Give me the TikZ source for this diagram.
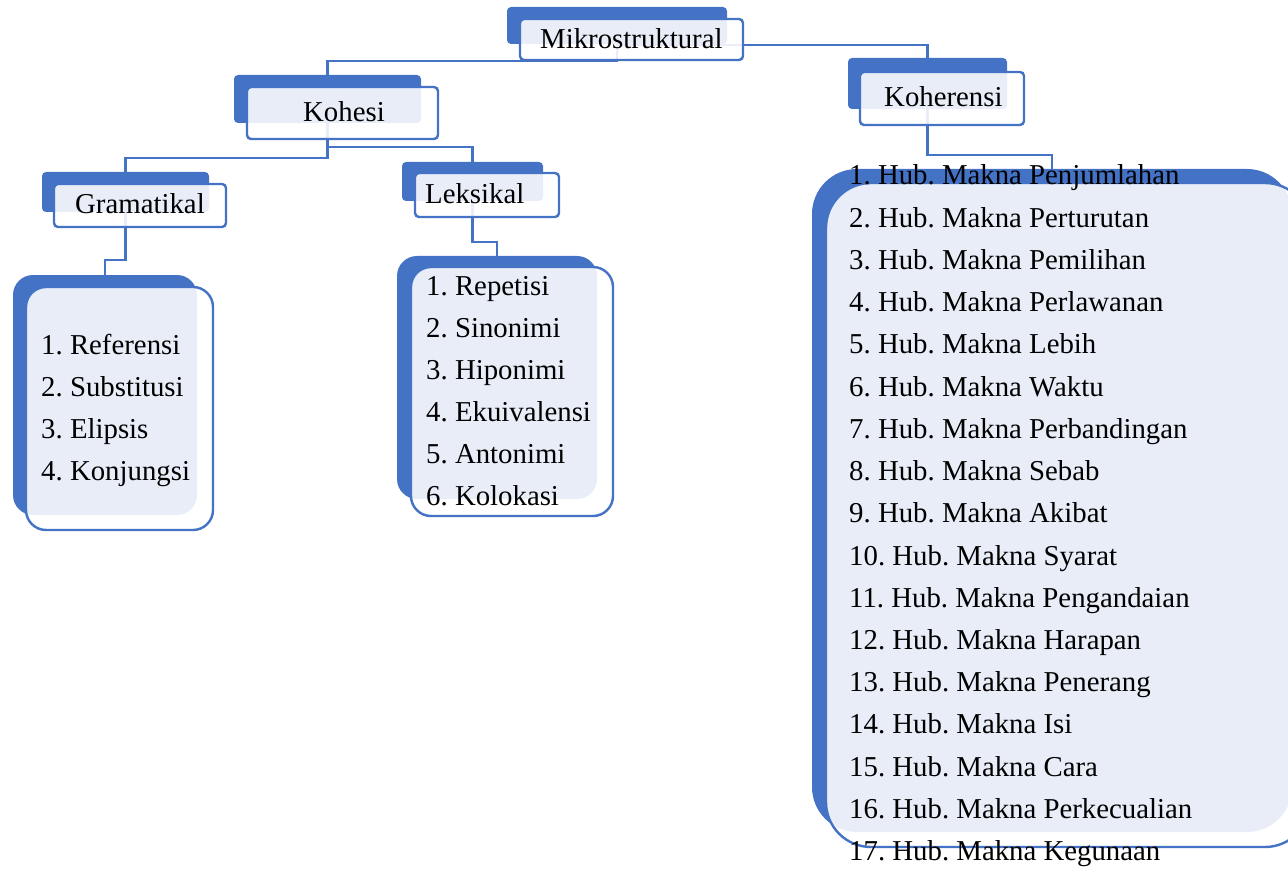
\documentclass[tikz,border=0pt]{standalone}
\usepackage{fontspec}
\setmainfont{Liberation Serif}
\usetikzlibrary{backgrounds,calc}
\definecolor{acc}{HTML}{4472C4}
\frenchspacing
\begin{document}
\begin{tikzpicture}[x=1pt,y=-1pt,
  backbox/.style={fill=acc,draw=none,rounded corners=4pt,inner sep=0pt,outer sep=0pt},
  frontbox/.style={fill=white,fill opacity=0.88,draw=acc,line width=2.4pt,rounded corners=4pt,inner sep=0pt,outer sep=0pt},
  lbl/.style={anchor=base west,inner sep=0pt,font=\fontsize{28.8}{34}\selectfont\frenchspacing,text=black},
  conn/.style={draw=acc,line width=2.4pt},
]
\useasboundingbox (0,0) rectangle (1288,869);
\clip (0,0) rectangle (1288,869);

% header boxes
\node[backbox,minimum width=220pt,minimum height=37pt] (mikroB) at (617,25.5) {};
\node[frontbox,minimum width=223pt,minimum height=41pt] (mikroF) at (631.5,39.5) {};

\node[backbox,minimum width=187pt,minimum height=48pt] (kohB) at (327.5,99) {};
\node[frontbox,minimum width=191pt,minimum height=52pt] (kohF) at (342.5,113) {};

\node[backbox,minimum width=167pt,minimum height=40pt] (gramB) at (125.5,192) {};
\node[frontbox,minimum width=172pt,minimum height=43pt] (gramF) at (140,205.5) {};

\node[backbox,minimum width=141pt,minimum height=39pt] (leksB) at (472.5,181.5) {};
\node[frontbox,minimum width=144pt,minimum height=44pt] (leksF) at (487,195) {};

\node[backbox,minimum width=159pt,minimum height=51pt] (kohrB) at (927.5,83.5) {};
\node[frontbox,minimum width=164pt,minimum height=53pt] (kohrF) at (942,98.5) {};

% list boxes
\node[backbox,rounded corners=20pt,minimum width=184pt,minimum height=240pt] (gramLB) at (105,395) {};
\node[frontbox,rounded corners=20pt,minimum width=187pt,minimum height=243pt] (gramLF) at (119.5,408.5) {};

\node[backbox,rounded corners=20pt,minimum width=200pt,minimum height=243pt] (leksLB) at (497,377.5) {};
\node[frontbox,rounded corners=20pt,minimum width=202pt,minimum height=249pt] (leksLF) at (512,391.5) {};

\node[backbox,rounded corners=45pt,minimum width=480pt,minimum height=663pt] (kohrLB) at (1052,500.5) {};
\node[frontbox,rounded corners=45pt,minimum width=484pt,minimum height=664pt] (kohrLF) at (1068,515) {};

% connectors
\begin{scope}[on background layer]
\draw[conn] (mikroB.south) |- ($(kohB.north)+(0,-14)$) -- (kohB.north);
\draw[conn] ($(mikroB.south)+(0,1)$) -| (kohrB.north);
\draw[conn] (kohB.south) |- ($(leksB.north)+(0,-15)$) -- (leksB.north);
\draw[conn] (kohB.south) |- ($(gramB.north)+(0,-14)$) -- (gramB.north);
\draw[conn] (gramB.south) |- ($(gramLB.north)+(0,-15)$) -- (gramLB.north);
\draw[conn] (leksB.south) |- ($(leksLB.north)+(0,-14)$) -- (leksLB.north);
\draw[conn] (kohrB.south) |- ($(kohrLB.north)+(0,-14)$) -- (kohrLB.north);
\end{scope}

% header texts
\node[lbl] (mikroT) at (540,48.3) {Mikrostruktural};
\node[lbl] (kohT) at (303,121.7) {Kohesi};
\node[lbl] (gramT) at (75,214) {Gramatikal};
\node[lbl] (leksT) at (425,203.3) {Leksikal};
\node[lbl] (kohrT) at (884,106.7) {Koherensi};

% list texts
\foreach \t [count=\i] in {Referensi,Substitusi,Elipsis,Konjungsi}
  \node[lbl] (g\i) at (41,{354.3+42.2*(\i-1)}) {\i. \t};
\foreach \t [count=\i] in {Repetisi,Sinonimi,Hiponimi,Ekuivalensi,Antonimi,Kolokasi}
  \node[lbl] (l\i) at (426,{295+42*(\i-1)}) {\i. \t};
\foreach \t [count=\i] in {Penjumlahan,Perturutan,Pemilihan,Perlawanan,Lebih,Waktu,Perbandingan,Sebab,Akibat,Syarat,Pengandaian,Harapan,Penerang,Isi,Cara,Perkecualian,Kegunaan}
  \node[lbl] (k\i) at (849,{185+42.23*(\i-1)}) {\i. Hub. Makna \t};
\end{tikzpicture}
\end{document}
